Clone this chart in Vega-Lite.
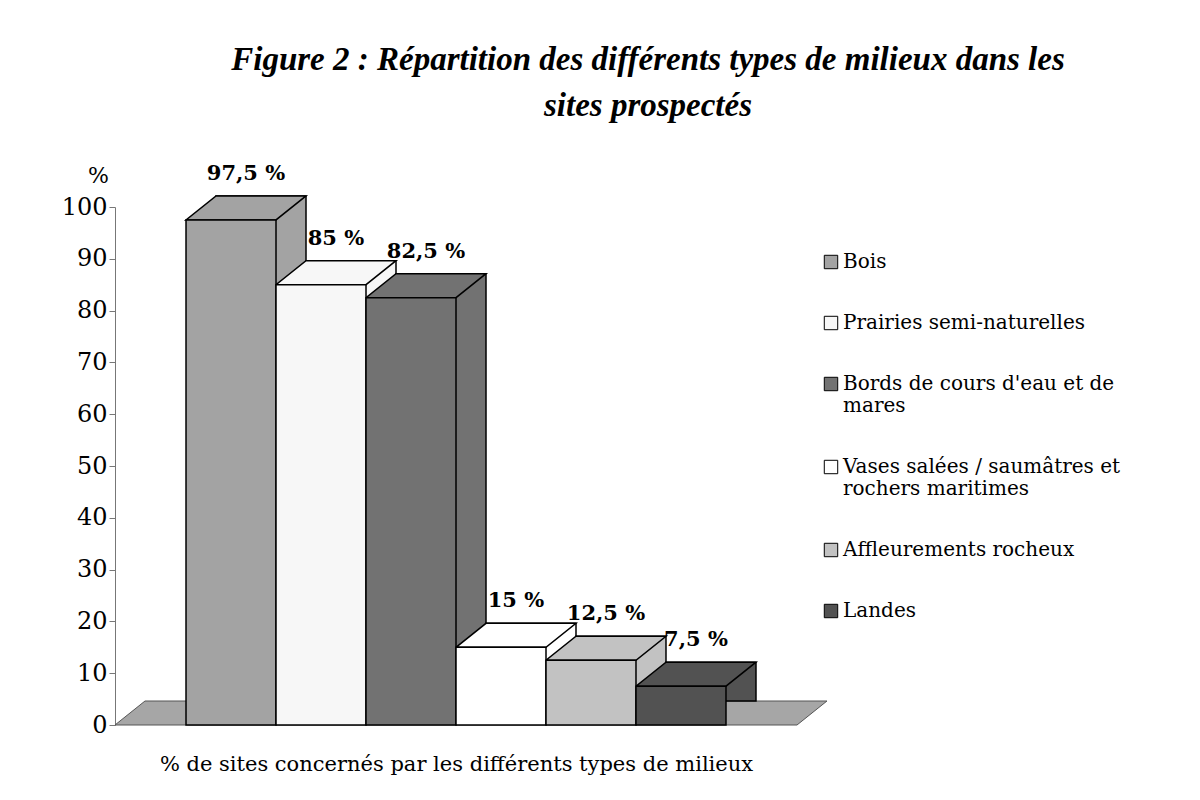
{
  "$schema": "https://vega.github.io/schema/vega-lite/v6.json",
  "autosize": {"type": "none"},
  "width": 682,
  "height": 518,
  "padding": {"left": 115, "top": 207, "right": 403, "bottom": 75},
  "background": "white",
  "config": {"view": {"stroke": null}, "font": "DejaVu Serif"},
  "title": {
    "text": ["Figure 2 : Répartition des différents types de milieux dans les", "sites prospectés"],
    "font": "Liberation Serif",
    "fontSize": 33,
    "fontStyle": "italic",
    "fontWeight": "bold",
    "color": "black",
    "anchor": "middle",
    "dx": 192,
    "lineHeight": 46,
    "offset": 40
  },
  "data": {
    "values": [
      {"milieu": "Bois", "pct": 97.5, "label": "97,5 %"},
      {"milieu": "Prairies semi-naturelles", "pct": 85, "label": "85 %"},
      {"milieu": "Bords de cours d'eau et de mares", "pct": 82.5, "label": "82,5 %"},
      {"milieu": "Vases salées / saumâtres et rochers maritimes", "pct": 15, "label": "15 %"},
      {"milieu": "Affleurements rocheux", "pct": 12.5, "label": "12,5 %"},
      {"milieu": "Landes", "pct": 7.5, "label": "7,5 %"}
    ]
  },
  "encoding": {
    "x": {
      "field": "milieu",
      "type": "nominal",
      "sort": null,
      "scale": {
        "domain": ["Bois", "Prairies semi-naturelles", "Bords de cours d'eau et de mares", "Vases salées / saumâtres et rochers maritimes", "Affleurements rocheux", "Landes"],
        "paddingInner": 0,
        "paddingOuter": 0.789
      },
      "axis": {
        "title": "% de sites concernés par les différents types de milieux",
        "titleFont": "DejaVu Serif",
        "titleFontSize": 21,
        "titleFontWeight": "normal",
        "titleColor": "black",
        "titlePadding": 28,
        "labels": false,
        "ticks": false,
        "domain": false
      }
    },
    "y": {
      "field": "pct",
      "type": "quantitative",
      "scale": {"domain": [0, 100], "nice": false},
      "axis": {
        "values": [0, 10, 20, 30, 40, 50, 60, 70, 80, 90, 100],
        "title": "%",
        "titleAngle": 0,
        "titleAlign": "center",
        "titleBaseline": "middle",
        "titleX": -17,
        "titleY": -32,
        "titleFont": "DejaVu Serif",
        "titleFontSize": 22,
        "titleFontWeight": "normal",
        "titleColor": "black",
        "labelFont": "DejaVu Serif",
        "labelFontSize": 24,
        "labelColor": "black",
        "labelPadding": 2,
        "tickSize": 6,
        "tickColor": "#777777",
        "domainColor": "#777777",
        "grid": false
      }
    }
  },
  "layer": [
    {
      "transform": [{"filter": "datum.milieu == 'Landes'"}],
      "mark": {
        "type": "point",
        "shape": "M-12.578,0L2.578,0L3.244,-0.5333L-11.911,-0.5333Z",
        "size": 8100,
        "filled": true,
        "opacity": 1,
        "fill": "#a6a6a6",
        "stroke": "#555555",
        "strokeWidth": 1
      },
      "encoding": {
        "y": {"datum": 0, "type": "quantitative"}
      }
    },
    {
      "mark": {
        "type": "bar",
        "xOffset": 30,
        "x2Offset": 30,
        "yOffset": -24,
        "y2Offset": -24,
        "stroke": "black",
        "strokeWidth": 1.5,
        "strokeJoin": "miter"
      },
      "encoding": {
        "fill": {"field": "milieu", "type": "nominal"}
      }
    },
    {
      "mark": {
        "type": "point",
        "shape": "M-1,0L1,0L1.6667,-0.5333L-0.3333,-0.5333Z",
        "size": 8100,
        "filled": true,
        "opacity": 1,
        "stroke": "black",
        "strokeWidth": 1.5,
        "strokeJoin": "miter"
      },
      "encoding": {
        "fill": {"field": "milieu", "type": "nominal"}
      }
    },
    {
      "mark": {
        "type": "bar",
        "stroke": "black",
        "strokeWidth": 1.5,
        "strokeJoin": "miter"
      },
      "encoding": {
        "fill": {
          "field": "milieu",
          "type": "nominal",
          "sort": null,
          "scale": {
            "domain": ["Bois", "Prairies semi-naturelles", "Bords de cours d'eau et de mares", "Vases salées / saumâtres et rochers maritimes", "Affleurements rocheux", "Landes"],
            "range": ["#a3a3a3", "#f7f7f7", "#727272", "#ffffff", "#c2c2c2", "#525252"]
          },
          "legend": {
            "title": null,
            "orient": "none",
            "legendX": 706,
            "legendY": 45,
            "symbolType": "square",
            "symbolSize": 180,
            "symbolStrokeColor": "black",
            "symbolStrokeWidth": 1,
            "symbolOpacity": 1,
            "labelFont": "DejaVu Serif",
            "labelFontSize": 20,
            "labelColor": "black",
            "labelLimit": 400,
            "labelOffset": 2,
            "rowPadding": 41,
            "labelExpr": "datum.label == \"Bords de cours d'eau et de mares\" ? [\"Bords de cours d'eau et de\", 'mares'] : datum.label == 'Vases salées / saumâtres et rochers maritimes' ? ['Vases salées / saumâtres et', 'rochers maritimes'] : datum.label"
          }
        }
      }
    },
    {
      "mark": {
        "type": "text",
        "font": "DejaVu Serif",
        "fontSize": 21,
        "fontWeight": "bold",
        "color": "black",
        "dx": 15,
        "dy": -40,
        "baseline": "alphabetic"
      },
      "encoding": {
        "text": {"field": "label", "type": "nominal"}
      }
    }
  ]
}
